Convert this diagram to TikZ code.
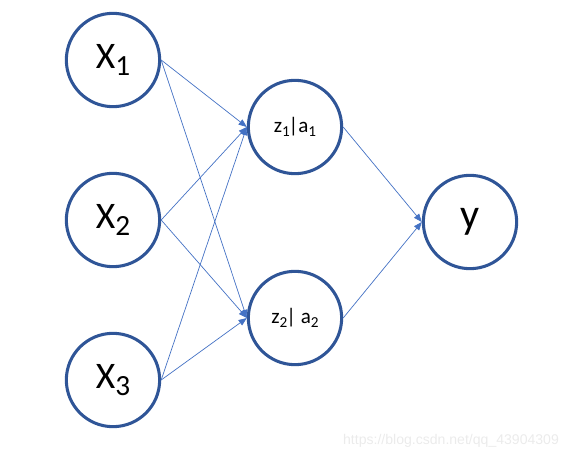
\documentclass[tikz,border=0pt]{standalone}
\usepackage{fontspec}
\setmainfont{Carlito}
\newfontfamily\markfont{Liberation Sans}
\usetikzlibrary{arrows.meta}
\definecolor{ringblue}{HTML}{2F5597}
\definecolor{linkblue}{HTML}{4472C4}
\definecolor{markgray}{HTML}{EBEBEB}
\newcommand{\lo}[2]{\raisebox{-0.2em}{\fontsize{#1}{#1}\selectfont #2}}
\newcommand{\wire}[2]{\draw[wire] (#1.east) -- (#2.west)}

\begin{document}
\begin{tikzpicture}[x=0.03cm, y=-0.03cm,
	neuron/.style = {circle, draw=ringblue, line width=2.6pt,
		minimum size=2.8cm, inner sep=0pt},
	big/.style = {font=\fontsize{32}{32}\selectfont},
	small/.style = {font=\fontsize{18}{18}\selectfont},
	wire/.style = {draw=linkblue, line width=0.6pt,
		-{Triangle[length=7pt,width=5.5pt]}}]
	\useasboundingbox (0,0) rectangle (582,460);
%Inputs
	\node[neuron, big] (x1) at (113,60) {X\lo{25}{1}};
	\node[neuron, big] (x2) at (113,220) {X\lo{25}{2}};
	\node[neuron, big] (x3) at (113,380) {X\lo{25}{3}};
%Hidden layer
	\node[neuron, small] (h1) at (295,127) {z\lo{13}{1}\kern-1pt|a\lo{13}{1}};
	\node[neuron, small] (h2) at (295,318) {z\lo{13}{2}\kern-1pt| a\lo{13}{2}};
%Output
	\node[neuron, big] (out) at (470,222) {\fontsize{36}{36}\selectfont y};
%Links
	\wire{x1}{h1};
	\wire{x1}{h2};
	\wire{x2}{h1};
	\wire{x2}{h2};
	\wire{x3}{h1};
	\wire{x3}{h2};
	\wire{h1}{out};
	\wire{h2}{out};
%Watermark
	\node[text=markgray, font=\markfont\fontsize{12}{12}\selectfont]
		(mark) at (451,441) {https://blog.csdn.net/qq\_43904309};
\end{tikzpicture}
\end{document}
